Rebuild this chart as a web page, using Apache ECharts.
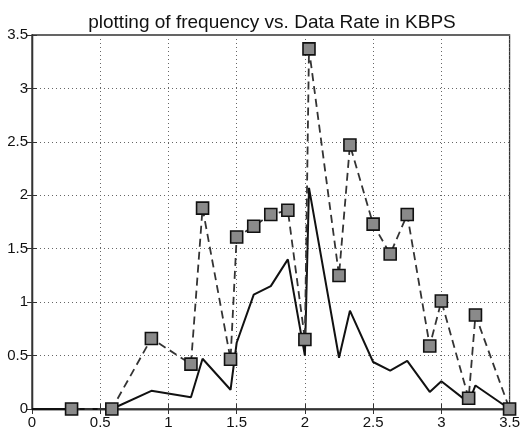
<!DOCTYPE html>
<html>
<head>
<meta charset="utf-8">
<script src="https://cdn.jsdelivr.net/npm/echarts@6/dist/echarts.min.js"></script>
<style>html,body{margin:0;padding:0;background:#fff;}#c{width:523px;height:430px;}</style>
</head>
<body>
<div id="c"></div>
<script>
// Data rate (KBPS) values
const rateX = [0.29, 0.585, 0.875, 1.165, 1.25, 1.455, 1.5, 1.625, 1.75, 1.875, 2.0, 2.03, 2.25, 2.33, 2.5, 2.625, 2.75, 2.915, 3.0, 3.2, 3.25, 3.5];
// dashed series with square markers
const dashedY = [0, 0, 0.66, 0.42, 1.88, 0.465, 1.61, 1.71, 1.82, 1.86, 0.65, 3.37, 1.25, 2.47, 1.73, 1.45, 1.82, 0.59, 1.01, 0.10, 0.88, 0];
// solid series
const solidX = [0, 0.29, 0.585, 0.875, 1.165, 1.25, 1.455, 1.5, 1.625, 1.75, 1.875, 2.0, 2.03, 2.25, 2.33, 2.5, 2.625, 2.75, 2.915, 3.0, 3.2, 3.25, 3.5];
const solidY = [0, 0, 0, 0.17, 0.11, 0.47, 0.18, 0.62, 1.07, 1.15, 1.40, 0.50, 2.07, 0.48, 0.92, 0.44, 0.36, 0.45, 0.16, 0.26, 0.06, 0.22, 0];
const xTicks = ['0', '0.5', '1', '1.5', '2', '2.5', '3', '3.5'];
const yTicks = ['0', '0.5', '1', '1.5', '2', '2.5', '3', '3.5'];
const titleText = 'plotting of frequency vs. Data Rate in KBPS';

const font = '"Liberation Sans", Arial, sans-serif';
const chart = echarts.init(document.getElementById('c'), null, {renderer: 'canvas'});
const axisLine = {show: true, lineStyle: {color: '#333', width: 1.3}};
const gridLine = {show: true, lineStyle: {color: '#666', type: [1, 3], width: 1}};
chart.setOption({
  animation: false,
  backgroundColor: '#fff',
  title: {
    text: titleText, left: 267, top: 8, textAlign: 'center',
    textStyle: {fontFamily: font, fontSize: 19, fontWeight: 'normal', color: '#111'}
  },
  grid: {left: 32, right: 12, top: 35, bottom: 18, show: true, borderColor: '#333', borderWidth: 1.3, containLabel: false},
  xAxis: [{
    type: 'value', min: 0, max: 3.5, interval: 0.5, position: 'bottom',
    axisLine: axisLine,
    axisTick: {show: true, inside: true, length: 5, lineStyle: {color: '#333'}},
    splitLine: gridLine,
    axisLabel: {fontFamily: font, fontSize: 15, color: '#111', margin: 6,
      formatter: v => xTicks[Math.round(v / 0.5)]}
  }, {
    type: 'value', min: 0, max: 3.5, interval: 0.5, position: 'top',
    axisLine: axisLine,
    axisTick: {show: true, inside: true, length: 5, lineStyle: {color: '#333'}},
    splitLine: {show: false}, axisLabel: {show: false}
  }],
  yAxis: [{
    type: 'value', min: 0, max: 3.5, interval: 0.5, position: 'left',
    axisLine: axisLine,
    axisTick: {show: true, inside: true, length: 5, lineStyle: {color: '#333'}},
    splitLine: gridLine,
    axisLabel: {fontFamily: font, fontSize: 15, color: '#111', margin: 4,
      formatter: v => yTicks[Math.round(v / 0.5)]}
  }, {
    type: 'value', min: 0, max: 3.5, interval: 0.5, position: 'right',
    axisLine: axisLine,
    axisTick: {show: true, inside: true, length: 5, lineStyle: {color: '#333'}},
    splitLine: {show: false}, axisLabel: {show: false}
  }],
  series: [{
    type: 'line', name: 'solid', xAxisIndex: 0, yAxisIndex: 0,
    data: solidX.map((x, i) => [x, solidY[i]]),
    showSymbol: false, symbol: 'none',
    lineStyle: {color: '#111', width: 2}, z: 2
  }, {
    type: 'line', name: 'dashed', xAxisIndex: 0, yAxisIndex: 0,
    data: rateX.map((x, i) => [x, dashedY[i]]),
    symbol: 'rect', symbolSize: 12,
    itemStyle: {color: '#8a8a8a', borderColor: '#111', borderWidth: 1.6},
    lineStyle: {color: '#333', width: 1.8, type: [8, 5]}, z: 3
  }]
});
</script>
</body>
</html>
